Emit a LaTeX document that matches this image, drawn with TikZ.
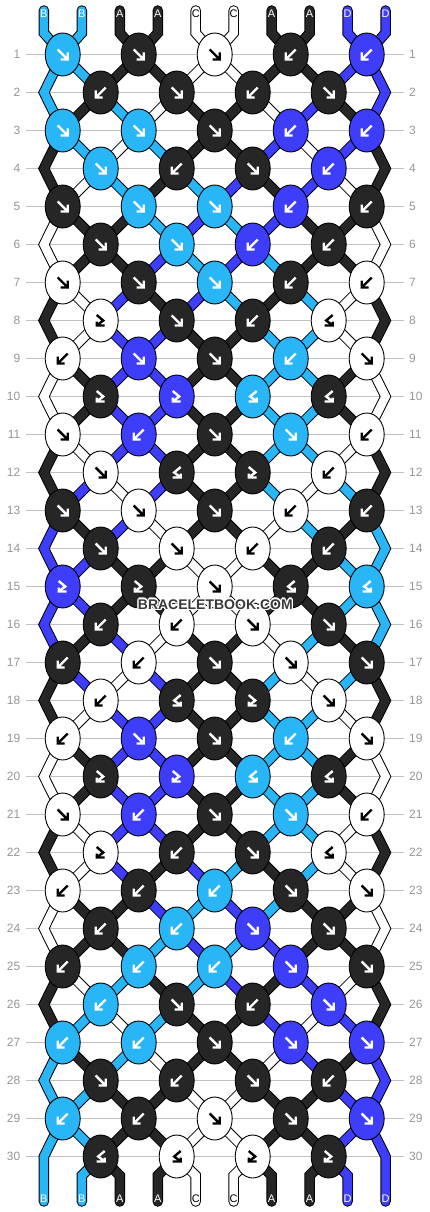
\documentclass[tikz,border=0pt]{standalone}
\usepackage{fontspec}
\setmainfont{Liberation Sans}
\usetikzlibrary{shapes.geometric,calc}

\definecolor{colA}{RGB}{38,38,38}
\definecolor{colB}{RGB}{41,182,246}
\definecolor{colC}{RGB}{255,255,255}
\definecolor{colD}{RGB}{61,61,250}
\colorlet{arwA}{white}
\colorlet{arwB}{white}
\colorlet{arwC}{black}
\colorlet{arwD}{white}
\definecolor{rowgrey}{RGB}{192,192,192}
\definecolor{numgrey}{RGB}{150,150,150}
\definecolor{wmgrey}{RGB}{58,58,58}

\pgfdeclarelayer{paper}
\pgfdeclarelayer{grid}
\pgfdeclarelayer{outl}
\pgfdeclarelayer{infl}
\pgfsetlayers{paper,grid,outl,infl,main}

\tikzset{
  knot/.style={ellipse, draw=black, line width=0.9pt, minimum width=35pt, minimum height=43pt, inner sep=0pt},
  strandout/.style={line width=10.5pt, draw=black, line cap=round, line join=miter},
  strandin/.style={line width=8.5pt, line cap=round, line join=miter},
  rowline/.style={draw=rowgrey, line width=1pt},
  rownum/.style={text=numgrey, inner sep=0pt, font=\fontsize{12}{14}\selectfont},
  tablabel/.style={inner sep=0pt, font=\fontsize{11}{13}\selectfont},
  wmark/.style={inner sep=0pt, font=\bfseries\fontsize{14}{16}\selectfont},
  arw/.style={line width=2.4pt, line join=miter},
  pics/kF/.style={code={\draw[arw,#1] (-5,-5) -- (5,5) (5,-2) -- (5,5) -- (-2,5);}},
  pics/kB/.style={code={\draw[arw,#1] (5,-5) -- (-5,5) (-5,-2) -- (-5,5) -- (2,5);}},
  pics/kFB/.style={code={\draw[arw,#1] (-4,-5.5) -- (2.5,0) -- (-4,5) (-4,1) -- (-4,5) -- (4,5);}},
  pics/kBF/.style={code={\draw[arw,#1] (4,-5.5) -- (-2.5,0) -- (4,5) (4,1) -- (4,5) -- (-4,5);}},
}

\newcommand\wmcopy[3]{\makebox[0pt][l]{\kern#1\raisebox{#2}{#3}}}
\newcommand\wmhalo[1]{\makebox[0pt][l]{\color{white}%
  \wmcopy{1.4pt}{0pt}{#1}\wmcopy{-1.4pt}{0pt}{#1}\wmcopy{0pt}{1.4pt}{#1}\wmcopy{0pt}{-1.4pt}{#1}%
  \wmcopy{1pt}{1pt}{#1}\wmcopy{-1pt}{1pt}{#1}\wmcopy{1pt}{-1pt}{#1}\wmcopy{-1pt}{-1pt}{#1}}#1}

\newif\ifoutl
\newcommand\strandpath[2]{\ifoutl\draw[strandout] #2;\else\draw[strandin, draw=col#1] #2;\fi}

\newcommand\drawstrands{%
\foreach \r/\st in {1/{B,B,A,A,C,C,A,A,D,D}, 2/{B,A,B,C,A,A,C,D,A,D}, 3/{A,B,C,B,A,A,D,C,D,A},
    4/{A,C,B,A,B,D,A,D,C,A}, 5/{C,A,A,B,D,B,D,A,A,C}, 6/{C,A,A,D,B,D,B,A,A,C},
    7/{A,C,D,A,D,B,A,B,C,A}, 8/{A,C,D,D,A,A,B,B,C,A}, 9/{C,A,D,D,A,A,B,B,A,C},
    10/{C,A,D,D,A,A,B,B,A,C}, 11/{A,C,D,D,A,A,B,B,C,A}, 12/{A,D,C,D,A,A,B,C,B,A},
    13/{D,A,D,C,A,A,C,B,A,B}, 14/{D,D,A,A,C,C,A,A,B,B}, 15/{D,D,A,A,C,C,A,A,B,B},
    16/{D,A,D,C,A,A,C,B,A,B}, 17/{A,D,C,D,A,A,B,C,B,A}, 18/{A,C,D,D,A,A,B,B,C,A},
    19/{C,A,D,D,A,A,B,B,A,C}, 20/{C,A,D,D,A,A,B,B,A,C}, 21/{A,C,D,D,A,A,B,B,C,A},
    22/{A,C,D,A,D,B,A,B,C,A}, 23/{C,A,A,D,B,D,B,A,A,C}, 24/{C,A,A,B,D,B,D,A,A,C},
    25/{A,C,B,A,B,D,A,D,C,A}, 26/{A,B,C,B,A,A,D,C,D,A}, 27/{B,A,B,C,A,A,C,D,A,D},
    28/{B,B,A,A,C,C,A,A,D,D}, 29/{B,B,A,A,C,C,A,A,D,D}} {
  \pgfmathtruncatemacro\odd{mod(\r,2)}
  \pgfmathtruncatemacro\rn{\r+1}
  \foreach \c [count=\p] in \st {
    \ifnum\p>1 \ifnum\p<10
      \pgfmathtruncatemacro\ka{\odd==1 ? int((\p+1)/2) : int(\p/2)}
      \pgfmathtruncatemacro\kb{\odd==1 ? int(\p/2) : int((\p+1)/2)}
      \strandpath{\c}{(k\r-\ka.center) -- (k\rn-\kb.center)}
    \fi\fi
  }
}
\foreach \r/\c/\d in {1/B/D, 3/A/A, 5/C/C, 7/A/A, 9/C/C, 11/A/A, 13/D/B, 15/D/B,
    17/A/A, 19/C/C, 21/A/A, 23/C/C, 25/A/A, 27/B/D} {
  \pgfmathtruncatemacro\rn{\r+1}
  \pgfmathtruncatemacro\rnn{\r+2}
  \strandpath{\c}{(k\r-1.center) -- (eL\rn) -- (k\rnn-1.center)}
  \strandpath{\d}{(k\r-5.center) -- (eR\rn) -- (k\rnn-5.center)}
}
\strandpath{B}{(k29-1.center) -- (eL30) -- (bb1)}
\strandpath{D}{(k29-5.center) -- (eR30) -- (bb10)}
\foreach \c [count=\i] in {B,B,A,A,C,C,A,A,D,D} {
  \pgfmathtruncatemacro\kt{int((\i+1)/2)}
  \pgfmathtruncatemacro\kb{int(\i/2)}
  \strandpath{\c}{(tt\i) -- (tk\i) -- (k1-\kt.center)}
  \ifnum\i>1 \ifnum\i<10
    \strandpath{\c}{(k30-\kb.center) -- (bk\i) -- (bb\i)}
  \fi\fi
}}

\begin{document}
\begin{tikzpicture}[x=1pt,y=-1pt]
\useasboundingbox (0,0) rectangle (430,1212);
\begin{pgfonlayer}{paper}\fill[white] (0,0) rectangle (430,1212);\end{pgfonlayer}

\foreach \r in {1,...,30} {
  \pgfmathsetmacro\yy{54.5+38*(\r-1)}
  \node[rownum, anchor=east] (nl\r) at (20.5,\yy) {\r};
  \node[rownum, anchor=west] (nr\r) at (409,\yy) {\r};
  \coordinate (eL\r) at (43.9,\yy);
  \coordinate (eR\r) at (385.5,\yy);
}
\begin{pgfonlayer}{grid}
\foreach \r in {1,...,30}
  \draw[rowline] ([xshift=5.5pt]nl\r.east) -- ([xshift=-5pt]nr\r.west);
\end{pgfonlayer}

\foreach \i in {1,...,10} {
  \pgfmathsetmacro\xx{43.9+37.96*(\i-1)}
  \coordinate (tt\i) at (\xx,10.5);
  \coordinate (tk\i) at (\xx,33);
  \coordinate (bk\i) at (\xx,1175.5);
  \coordinate (bb\i) at (\xx,1201.5);
}

\foreach \r/\ks in {1/{B/F,A/F,C/F,A/B,D/B}, 2/{A/B,A/F,A/B,A/F}, 3/{B/F,B/F,A/F,D/B,D/B},
    4/{B/F,A/B,A/F,D/B}, 5/{A/F,B/F,B/F,D/B,A/B}, 6/{A/F,B/F,D/B,A/B},
    7/{C/F,A/F,B/F,A/B,C/B}, 8/{C/FB,A/F,A/B,C/BF}, 9/{C/B,D/F,A/F,B/B,C/F},
    10/{A/FB,D/FB,B/BF,A/BF}, 11/{C/F,D/B,A/F,B/F,C/B}, 12/{C/F,A/BF,A/FB,C/B},
    13/{A/F,C/F,A/F,C/B,A/B}, 14/{A/F,C/F,C/B,A/B}, 15/{D/FB,A/FB,C/F,A/BF,B/BF},
    16/{A/B,C/B,C/F,A/F}, 17/{A/B,C/B,A/F,C/F,A/F}, 18/{C/B,A/BF,A/FB,C/F},
    19/{C/B,D/F,A/F,B/B,C/F}, 20/{A/FB,D/FB,B/BF,A/BF}, 21/{C/F,D/B,A/F,B/F,C/B},
    22/{C/FB,A/B,A/F,C/BF}, 23/{C/B,A/B,B/B,A/F,C/F}, 24/{A/B,B/B,D/F,A/F},
    25/{A/B,B/B,B/B,D/F,A/F}, 26/{B/B,A/F,A/B,D/F}, 27/{B/B,B/B,A/F,D/F,D/F},
    28/{A/F,A/B,A/F,A/B}, 29/{B/B,A/B,C/F,A/F,D/F}, 30/{A/BF,C/BF,C/FB,A/FB}} {
  \pgfmathsetmacro\yy{54.5+38*(\r-1)}
  \pgfmathtruncatemacro\odd{mod(\r,2)}
  \foreach \c/\t [count=\k] in \ks {
    \pgfmathsetmacro\xx{\odd==1 ? 62.7+76*(\k-1) : 100.7+76*(\k-1)}
    \node[knot, fill=col\c] (k\r-\k) at (\xx,\yy) {};
    \pic at (k\r-\k) {k\t=arw\c};
  }
}

\begin{pgfonlayer}{outl}\outltrue\drawstrands\end{pgfonlayer}
\begin{pgfonlayer}{infl}\outlfalse\drawstrands\end{pgfonlayer}

\foreach \c [count=\i] in {B,B,A,A,C,C,A,A,D,D} {
  \node[tablabel, text=arw\c] (lt\i) at ($(tt\i)+(0,3)$) {\c};
  \node[tablabel, text=arw\c] (lb\i) at ($(bb\i)+(0,-2.5)$) {\c};
}

\node[wmark, text=wmgrey] (wm) at (215.3,604.5) {\wmhalo{BRACELETBOOK.COM}};
\end{tikzpicture}
\end{document}
